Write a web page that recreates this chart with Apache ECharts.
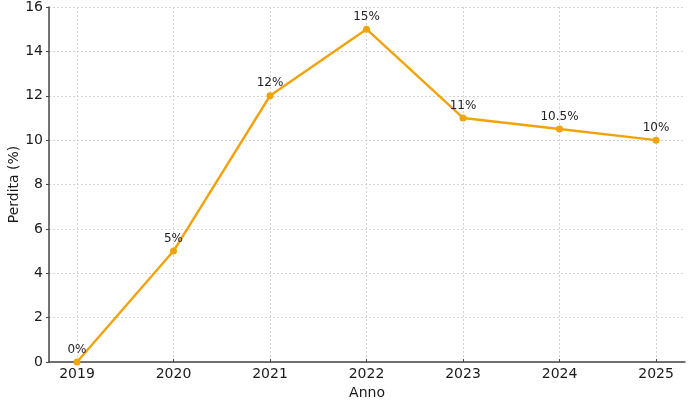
<!DOCTYPE html>
<html><head><meta charset="utf-8">
<script src="https://cdn.jsdelivr.net/npm/echarts@6/dist/echarts.min.js"></script>
<style>html,body{margin:0;padding:0;background:#fff}#c{width:695px;height:400px}</style>
</head><body><div id="c"></div>
<script>
const years = [2019, 2020, 2021, 2022, 2023, 2024, 2025];
const losses = [0, 5, 12, 15, 11, 10.5, 10];
const pointLabels = ['0%', '5%', '12%', '15%', '11%', '10.5%', '10%'];

const chart = echarts.init(document.getElementById('c'));
const font = 'DejaVu Sans';
chart.setOption({
  animation: false,
  backgroundColor: '#fff',
  grid: { left: 49, right: 10, top: 7, bottom: 38, outerBoundsMode: 'none', containLabel: false },
  xAxis: {
    type: 'value', min: 2018.71, max: 2025.3,
    name: 'Anno', nameLocation: 'middle', nameGap: 24, nameMoveOverlap: false,
    nameTextStyle: { fontFamily: font, fontSize: 14, color: '#1a1a1a' },
    axisLine: { lineStyle: { color: '#444', width: 1.5 } },
    axisTick: { show: true, customValues: years, length: 3, inside: true, lineStyle: { color: '#444' } },
    axisLabel: { customValues: years, fontFamily: font, fontSize: 14, color: '#1a1a1a', margin: 5, formatter: v => String(v) },
    splitLine: { show: true, lineStyle: { color: '#d4d4d4', type: [2, 2], width: 1 } }
  },
  yAxis: {
    type: 'value', min: 0, max: 16, interval: 2,
    name: 'Perdita (%)', nameLocation: 'middle', nameGap: 28, nameRotate: 90, nameMoveOverlap: false,
    nameTextStyle: { fontFamily: font, fontSize: 14, color: '#1a1a1a' },
    axisLine: { show: true, lineStyle: { color: '#444', width: 1.5 } },
    axisTick: { show: true, length: 3, lineStyle: { color: '#444' } },
    axisLabel: { fontFamily: font, fontSize: 14, color: '#1a1a1a', margin: 6 },
    splitLine: { show: true, lineStyle: { color: '#d4d4d4', type: [2, 2], width: 1 } }
  },
  series: [{
    type: 'line',
    data: years.map((y, i) => [y, losses[i]]),
    color: '#F0A30A',
    lineStyle: { width: 2.4, color: '#F0A30A' },
    symbol: 'circle', symbolSize: 7,
    itemStyle: { color: '#F0A30A' },
    label: {
      show: true, position: 'top', distance: 3,
      fontFamily: font, fontSize: 12, color: '#222',
      formatter: p => pointLabels[p.dataIndex]
    }
  }]
});
</script></body></html>
